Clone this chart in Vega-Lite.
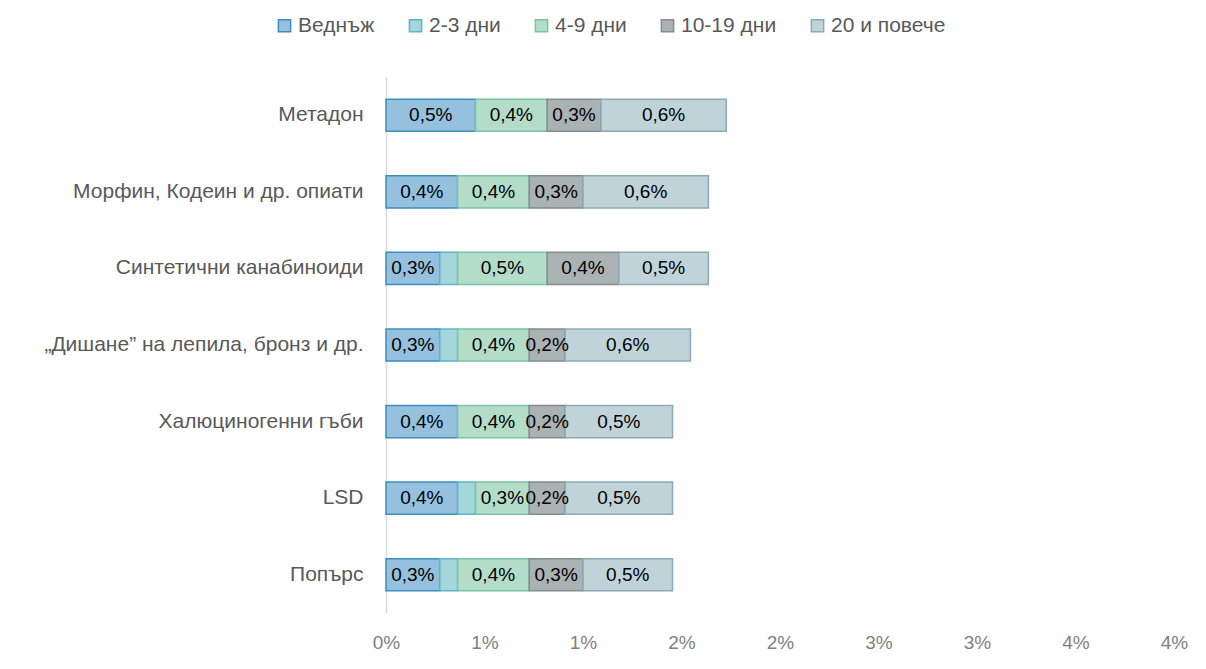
{
  "$schema": "https://vega.github.io/schema/vega-lite/v6.json",
  "autosize": {"type": "none"},
  "width": 788,
  "height": 536,
  "padding": {"left": 386, "top": 77, "right": 32, "bottom": 56},
  "background": "white",
  "config": {
    "font": "Liberation Sans",
    "view": {"stroke": null},
    "locale": {"number": {"decimal": ",", "thousands": " ", "grouping": [3], "currency": ["", ""]}}
  },
  "data": {"values": [
    {"drug": "Метадон", "cat": "Веднъж", "v": 0.004545},
    {"drug": "Метадон", "cat": "4-9 дни", "v": 0.003636},
    {"drug": "Метадон", "cat": "10-19 дни", "v": 0.002727},
    {"drug": "Метадон", "cat": "20 и повече", "v": 0.006364},
    {"drug": "Морфин, Кодеин и др. опиати", "cat": "Веднъж", "v": 0.003636},
    {"drug": "Морфин, Кодеин и др. опиати", "cat": "4-9 дни", "v": 0.003636},
    {"drug": "Морфин, Кодеин и др. опиати", "cat": "10-19 дни", "v": 0.002727},
    {"drug": "Морфин, Кодеин и др. опиати", "cat": "20 и повече", "v": 0.006364},
    {"drug": "Синтетични канабиноиди", "cat": "Веднъж", "v": 0.002727},
    {"drug": "Синтетични канабиноиди", "cat": "2-3 дни", "v": 0.000909},
    {"drug": "Синтетични канабиноиди", "cat": "4-9 дни", "v": 0.004545},
    {"drug": "Синтетични канабиноиди", "cat": "10-19 дни", "v": 0.003636},
    {"drug": "Синтетични канабиноиди", "cat": "20 и повече", "v": 0.004545},
    {"drug": "„Дишане” на лепила, бронз и др.", "cat": "Веднъж", "v": 0.002727},
    {"drug": "„Дишане” на лепила, бронз и др.", "cat": "2-3 дни", "v": 0.000909},
    {"drug": "„Дишане” на лепила, бронз и др.", "cat": "4-9 дни", "v": 0.003636},
    {"drug": "„Дишане” на лепила, бронз и др.", "cat": "10-19 дни", "v": 0.001818},
    {"drug": "„Дишане” на лепила, бронз и др.", "cat": "20 и повече", "v": 0.006364},
    {"drug": "Халюциногенни гъби", "cat": "Веднъж", "v": 0.003636},
    {"drug": "Халюциногенни гъби", "cat": "4-9 дни", "v": 0.003636},
    {"drug": "Халюциногенни гъби", "cat": "10-19 дни", "v": 0.001818},
    {"drug": "Халюциногенни гъби", "cat": "20 и повече", "v": 0.005455},
    {"drug": "LSD", "cat": "Веднъж", "v": 0.003636},
    {"drug": "LSD", "cat": "2-3 дни", "v": 0.000909},
    {"drug": "LSD", "cat": "4-9 дни", "v": 0.002727},
    {"drug": "LSD", "cat": "10-19 дни", "v": 0.001818},
    {"drug": "LSD", "cat": "20 и повече", "v": 0.005455},
    {"drug": "Попърс", "cat": "Веднъж", "v": 0.002727},
    {"drug": "Попърс", "cat": "2-3 дни", "v": 0.000909},
    {"drug": "Попърс", "cat": "4-9 дни", "v": 0.003636},
    {"drug": "Попърс", "cat": "10-19 дни", "v": 0.002727},
    {"drug": "Попърс", "cat": "20 и повече", "v": 0.004545}
  ]},
  "transform": [
    {"calculate": "indexof(['Веднъж','2-3 дни','4-9 дни','10-19 дни','20 и повече'], datum.cat)", "as": "o"},
    {"stack": "v", "groupby": ["drug"], "sort": [{"field": "o", "order": "ascending"}], "as": ["x0", "x1"]},
    {"calculate": "(datum.x0 + datum.x1) / 2", "as": "xm"}
  ],
  "encoding": {
    "y": {
      "field": "drug", "type": "nominal",
      "sort": ["Метадон", "Морфин, Кодеин и др. опиати", "Синтетични канабиноиди", "„Дишане” на лепила, бронз и др.", "Халюциногенни гъби", "LSD", "Попърс"],
      "scale": {"paddingInner": 0.58, "paddingOuter": 0.29},
      "axis": {"title": null, "ticks": false, "domainColor": "#d9d9d9", "domainWidth": 1.5, "labelColor": "#595959", "labelFontSize": 21, "labelPadding": 23, "labelLimit": 0, "labelFont": "Liberation Sans"}
    }
  },
  "layer": [
    {
      "mark": {"type": "bar", "strokeWidth": 1.5},
      "encoding": {
        "x": {"field": "x0", "type": "quantitative", "scale": {"domain": [0, 0.04], "nice": false, "zero": true},
          "axis": {"title": null, "values": [0, 0.005, 0.01, 0.015, 0.02, 0.025, 0.03, 0.035, 0.04], "format": ".0%", "grid": false, "domain": false, "ticks": false, "labelFlush": false, "labelColor": "#7f7f7f", "labelFontSize": 19, "labelPadding": 20, "labelFont": "Liberation Sans"}},
        "x2": {"field": "x1"},
        "fill": {"field": "cat", "type": "nominal",
          "scale": {"domain": ["Веднъж", "2-3 дни", "4-9 дни", "10-19 дни", "20 и повече"], "range": ["#95c1de", "#a4d6dc", "#b3dcc9", "#aab2b3", "#c0d3d9"]},
          "legend": {"title": null, "orient": "none", "legendX": -112, "legendY": -62, "direction": "horizontal", "symbolType": "square", "symbolSize": 150, "symbolStrokeWidth": 1.5, "labelFontSize": 21, "labelColor": "#595959", "labelFont": "Liberation Sans", "columnPadding": 30, "labelOffset": 3, "labelLimit": 0}},
        "stroke": {"field": "cat", "type": "nominal",
          "scale": {"domain": ["Веднъж", "2-3 дни", "4-9 дни", "10-19 дни", "20 и повече"], "range": ["#3d8fc0", "#59b7c7", "#7cc3a3", "#838d8f", "#8aaab5"]},
          "legend": {"title": null, "orient": "none", "legendX": -112, "legendY": -62, "direction": "horizontal", "symbolType": "square", "symbolSize": 150, "symbolStrokeWidth": 1.5, "labelFontSize": 21, "labelColor": "#595959", "labelFont": "Liberation Sans", "columnPadding": 30, "labelOffset": 3, "labelLimit": 0}}
      }
    },
    {
      "transform": [{"filter": "datum.cat != '2-3 дни'"}],
      "mark": {"type": "text", "fontSize": 19, "color": "#000000", "font": "Liberation Sans"},
      "encoding": {
        "x": {"field": "xm", "type": "quantitative"},
        "text": {"field": "v", "type": "quantitative", "format": ".1%"}
      }
    }
  ]
}
